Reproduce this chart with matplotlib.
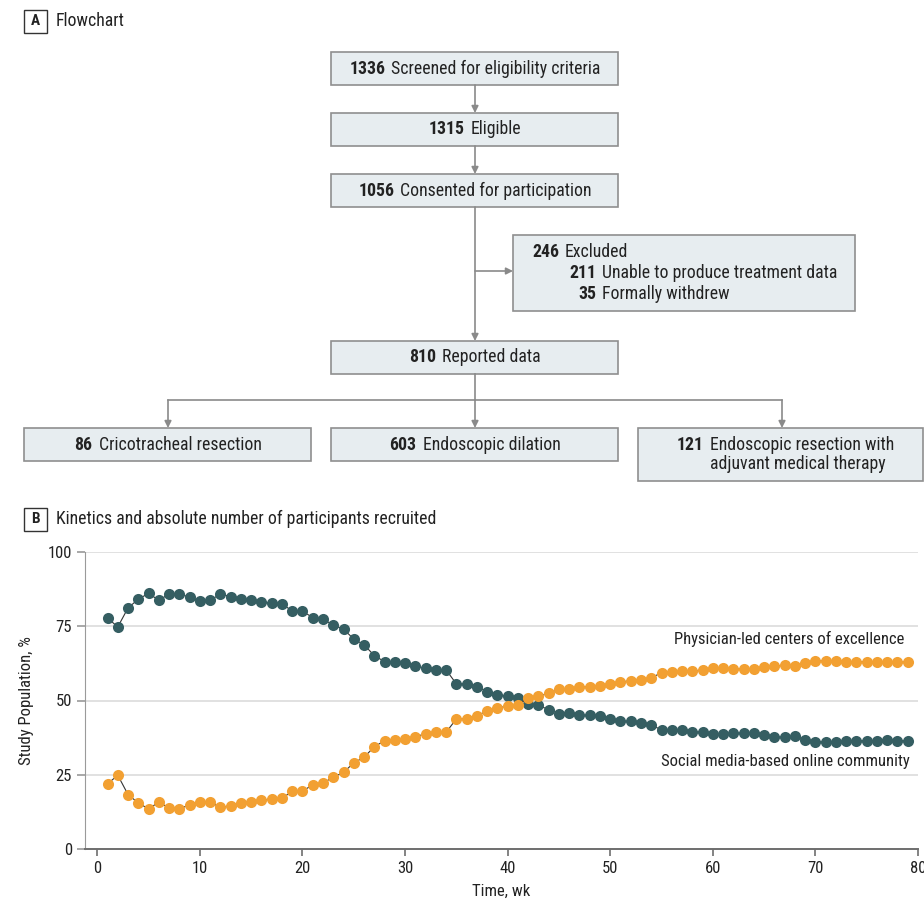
import numpy as np
import matplotlib
matplotlib.use("Agg")
import matplotlib.pyplot as plt
from matplotlib import font_manager
from matplotlib.patches import Rectangle

# ---------------------------------------------------------------------------
# data
# ---------------------------------------------------------------------------
weeks = list(range(1, 80))
social_media = [77.7, 74.8, 81.2, 84.1, 86.1, 83.7, 85.9, 86.0, 84.7, 83.4,
                83.8, 85.8, 85.0, 84.1, 83.7, 83.3, 82.7, 82.6, 80.1, 80.1,
                77.9, 77.4, 75.4, 74.0, 70.7, 68.8, 65.1, 63.1, 62.9, 62.5,
                61.7, 60.8, 60.4, 60.3, 55.6, 55.6, 54.7, 53.0, 52.0, 51.5,
                50.9, 48.9, 48.4, 46.9, 45.6, 45.8, 45.0, 45.0, 44.7, 43.9,
                43.0, 43.0, 42.4, 41.9, 40.0, 40.0, 40.0, 39.4, 39.4, 38.6,
                38.7, 39.0, 39.0, 39.0, 38.3, 37.7, 37.6, 37.9, 36.8, 36.1,
                36.1, 36.0, 36.4, 36.5, 36.5, 36.5, 36.8, 36.5, 36.5]
physician_led = [22.0, 24.8, 18.3, 15.5, 13.5, 15.8, 13.8, 13.6, 14.8, 15.9,
                 15.8, 14.0, 14.6, 15.5, 15.9, 16.4, 16.9, 17.1, 19.4, 19.4,
                 21.7, 22.2, 24.2, 25.8, 29.0, 30.9, 34.4, 36.5, 36.7, 36.9,
                 37.8, 38.8, 39.3, 39.3, 43.8, 43.9, 44.9, 46.5, 47.6, 48.0,
                 48.6, 50.8, 51.4, 52.4, 53.9, 53.8, 54.5, 54.7, 54.8, 55.5,
                 56.3, 56.6, 57.0, 57.6, 59.4, 59.6, 59.8, 60.0, 60.2, 60.9,
                 60.9, 60.6, 60.6, 60.6, 61.2, 61.7, 61.8, 61.7, 62.6, 63.4,
                 63.3, 63.3, 63.1, 63.1, 63.1, 63.0, 62.8, 62.9, 63.0]

y_ticks = [0, 25, 50, 75, 100]
x_ticks = [0, 10, 20, 30, 40, 50, 60, 70, 80]

# flowchart counts
n_screened, n_eligible, n_consented = "1336", "1315", "1056"
n_excluded, n_unable, n_withdrew = "246", "211", "35"
n_reported = "810"
n_ctr, n_dil, n_res = "86", "603", "121"

# ---------------------------------------------------------------------------
# fonts / colours
# ---------------------------------------------------------------------------
have = {f.name for f in font_manager.fontManager.ttflist}
for fam in ["Liberation Sans Narrow", "Roboto Condensed", "Open Sans Condensed",
            "Noto Sans", "DejaVu Sans"]:
    if fam in have:
        FONT = fam
        break
plt.rcParams["font.family"] = [FONT, "DejaVu Sans"]

TEAL = "#355e62"
ORANGE = "#f2a032"
BOX_FC = "#e7edf0"
BOX_EC = "#8f8f8f"
ARROW_C = "#8a8a8a"
TXT = "#222222"
FS = 12          # chart text
FS_FLOW = 12.8   # flowchart text

fig = plt.figure(figsize=(9.24, 9.01), dpi=100)

# full-figure axes in pixel units for the flowchart
fa = fig.add_axes([0, 0, 1, 1])
fa.set_xlim(0, 924)
fa.set_ylim(901, 0)
fa.axis("off")
renderer = fig.canvas.get_renderer()


def width_of(t):
    return t.get_window_extent(renderer=renderer).width


def rich(x, y, num, txt, ha="center", gap=6):
    """bold number followed by regular text"""
    tb = fa.text(0, y, num, fontsize=FS_FLOW, fontweight="bold", color=TXT, va="center")
    tr = fa.text(0, y, txt, fontsize=FS_FLOW, color=TXT, va="center")
    wb, wr = width_of(tb), width_of(tr)
    if ha == "center":
        x0 = x - (wb + gap + wr) / 2
    elif ha == "numright":          # x is where the regular text starts
        x0 = x - gap - wb
    else:
        x0 = x
    tb.set_x(x0)
    tr.set_x(x0 + wb + gap)


def box(x0, y0, x1, y1):
    fa.add_patch(Rectangle((x0, y0), x1 - x0, y1 - y0, facecolor=BOX_FC,
                           edgecolor=BOX_EC, lw=1.2))


def arrow(x0, y0, x1, y1):
    fa.annotate("", xy=(x1, y1), xytext=(x0, y0),
                arrowprops=dict(arrowstyle="-|>", color=ARROW_C, lw=1.2,
                                mutation_scale=10, shrinkA=0, shrinkB=0))


def line(xs, ys):
    fa.plot(xs, ys, color=ARROW_C, lw=1.2)


def panel_label(y, letter, title):
    fa.add_patch(Rectangle((24, y - 11.5), 23, 23, facecolor="white",
                           edgecolor="#333333", lw=1.0))
    fa.text(35.5, y, letter, fontsize=11, fontweight="bold", color=TXT,
            ha="center", va="center")
    fa.text(56, y, title, fontsize=FS_FLOW, color=TXT, va="center")


panel_label(21, "A", "Flowchart")
panel_label(519, "B", "Kinetics and absolute number of participants recruited")

# main column
box(331, 52, 618, 85)
rich(475, 68.5, n_screened, "Screened for eligibility criteria")
arrow(475, 85, 475, 113)
box(331, 113, 618, 146)
rich(475, 129.5, n_eligible, "Eligible")
arrow(475, 146, 475, 174)
box(331, 174, 618, 207)
rich(475, 190.5, n_consented, "Consented for participation")
arrow(475, 207, 475, 341)
arrow(475, 271, 513, 271)

# excluded box
box(513, 235, 855, 311)
rich(532, 252, n_excluded, "Excluded", ha="left")
rich(602, 273, n_unable, "Unable to produce treatment data", ha="numright")
rich(602, 294, n_withdrew, "Formally withdrew", ha="numright")

box(331, 341, 618, 374)
rich(475, 357.5, n_reported, "Reported data")

# split into the three treatment groups
line([475, 475], [374, 400])
line([168, 782], [400, 400])
arrow(168, 400, 168, 428)
arrow(475, 400, 475, 428)
arrow(782, 400, 782, 428)

box(24, 428, 311, 461)
rich(168, 444.5, n_ctr, "Cricotracheal resection")
box(331, 428, 618, 461)
rich(475, 444.5, n_dil, "Endoscopic dilation")
box(638, 428, 923, 481)
rich(710, 445, n_res, "Endoscopic resection with", ha="numright")
fa.text(710, 464, "adjuvant medical therapy", fontsize=FS_FLOW, color=TXT, va="center")

# ---------------------------------------------------------------------------
# panel B: line chart
# ---------------------------------------------------------------------------
ax = fig.add_axes([85 / 924, 1 - 849 / 901, (918 - 85) / 924, (849 - 552) / 901])
ax.set_xlim(-1.2, 80)
ax.set_ylim(0, 100)
ax.set_yticks(y_ticks)
ax.set_xticks(x_ticks)
ax.grid(axis="y", color="#dcdcdc", lw=1.2)
ax.set_axisbelow(True)
for s in ["top", "right"]:
    ax.spines[s].set_visible(False)
ax.spines["left"].set_color("#9a9a9a")
ax.spines["bottom"].set_color("#6e6e6e")
ax.spines["bottom"].set_linewidth(1.4)
ax.tick_params(axis="y", colors="#9a9a9a", labelcolor=TXT, labelsize=FS,
               length=6, width=1.2)
ax.tick_params(axis="x", colors="#6e6e6e", labelcolor=TXT, labelsize=FS,
               length=5, width=1.2)
ax.patch.set_alpha(0)

ax.plot(weeks, social_media, color="#333333", lw=0.8, marker="o", ms=8,
        mfc=TEAL, mec="none", zorder=3)
ax.plot(weeks, physician_led, color="#333333", lw=0.8, marker="o", ms=8,
        mfc=ORANGE, mec="none", zorder=3)

ax.text(78.7, 70.7, "Physician-led centers of excellence", fontsize=FS,
        color=TXT, ha="right", va="center")
ax.text(79.2, 29.6, "Social media-based online community", fontsize=FS,
        color=TXT, ha="right", va="center")

ax.set_xlabel("Time, wk", fontsize=FS, color=TXT, labelpad=6)
ax.set_ylabel("Study Population, %", fontsize=FS, color=TXT, labelpad=10)

fig.savefig("out.png", dpi=100)
